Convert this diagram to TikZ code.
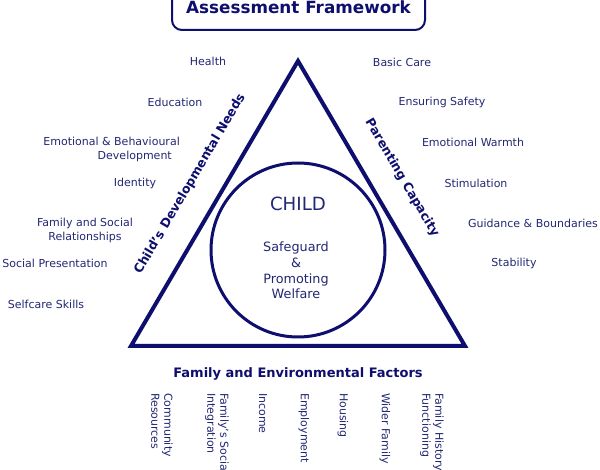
\documentclass[tikz,border=0pt]{standalone}
\usepackage{fontspec}
\setmainfont{DejaVu Sans}
\definecolor{navy}{RGB}{14,14,110}
\definecolor{txt}{RGB}{35,40,115}
\begin{document}
\begin{tikzpicture}[x=1pt,y=-1pt,
  lbl/.style={font=\fontsize{11}{14}\selectfont, text=txt, inner sep=0pt},
  sidelbl/.style={font=\fontsize{12.5}{15}\selectfont\bfseries, text=navy, inner sep=0pt},
  vertlbl/.style={font=\fontsize{11}{13}\selectfont, text=txt, inner sep=0pt, rotate=-90, anchor=west, align=left},
  ctr/.style={font=\fontsize{12.8}{15.7}\selectfont, text=txt, inner sep=0pt, align=center}]
\useasboundingbox (0,0) rectangle (600,470);
\clip (0,0) rectangle (600,470);
\fill[white] (0,0) rectangle (600,470);
% title
\node[draw=navy, line width=2pt, rounded corners=10pt, minimum width=253pt, minimum height=45pt,
  font=\fontsize{16.8}{20}\selectfont\bfseries, text=navy] (title) at (298.5,7.5) {Assessment Framework};
% triangle
\coordinate (apex) at (298,61);
\coordinate (bl) at (131,346);
\coordinate (br) at (465,346);
\draw[navy, line width=4pt, line join=miter] (apex) -- (bl) -- (br) -- cycle;
% circle
\node[circle, draw=navy, line width=3pt, minimum size=174pt, inner sep=0pt] (circ) at (298,250) {};
\node[font=\fontsize{18.2}{20}\selectfont, text=txt, inner sep=0pt] (child) at (298,204) {CHILD};
\node[ctr] (safe) at (296,270.5) {Safeguard\\\&\\Promoting\\Welfare};
% side labels
\node[sidelbl, rotate=59.6] (cdn) at (190,184) {Child's Developmental Needs};
\node[sidelbl, rotate=-59.6] (pc) at (402,178) {Parenting Capacity};
\node[font=\fontsize{13}{15}\selectfont\bfseries, text=navy, inner sep=0pt] (fef) at (298,374) {Family and Environmental Factors};
% left labels
\node[lbl] (health) at (208,61) {Health};
\node[lbl] (edu) at (175,102) {Education};
\node[lbl, align=right, anchor=east] (emo) at (180,149) {Emotional \& Behavioural\\Development\hspace*{8pt}};
\node[lbl] (ident) at (135,183) {Identity};
\node[lbl, align=center] (fsr) at (85,230) {Family and Social\\Relationships};
\node[lbl] (socp) at (55,263) {Social Presentation};
\node[lbl] (self) at (46,304) {Selfcare Skills};
% right labels
\node[lbl] (basic) at (402,62) {Basic Care};
\node[lbl] (safety) at (442,102) {Ensuring Safety};
\node[lbl] (warm) at (473,142) {Emotional Warmth};
\node[lbl] (stim) at (476,183) {Stimulation};
\node[lbl] (guid) at (533,223) {Guidance \& Boundaries};
\node[lbl] (stab) at (514,263) {Stability};
% bottom labels
\node[vertlbl] (comm) at (162,393) {Community\\Resources};
\node[vertlbl] (fsi) at (217,393) {Family's Social\\Integration};
\node[vertlbl] (inc) at (263,393) {Income};
\node[vertlbl] (emp) at (304,393) {Employment};
\node[vertlbl] (hous) at (343,393) {Housing};
\node[vertlbl] (wider) at (385,393) {Wider Family};
\node[vertlbl] (fhf) at (432,393) {Family History\\Functioning};
\end{tikzpicture}
\end{document}
